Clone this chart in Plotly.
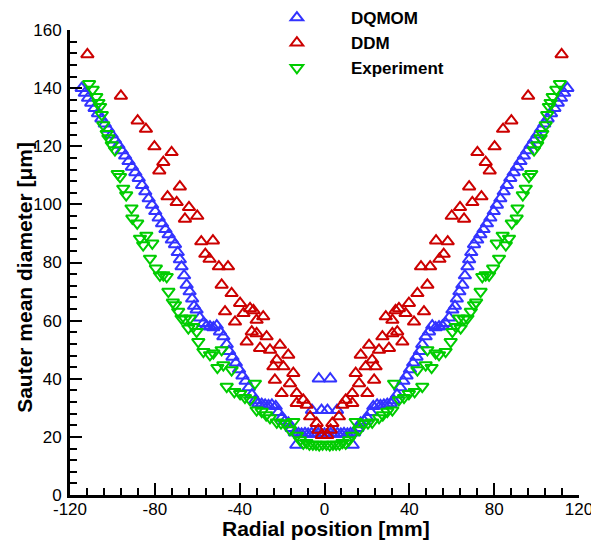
import plotly.graph_objects as go

# Sauter mean diameter profiles across the radial position
dqmom_x = [
    -114.5, -113.0, -111.5, -110.0, -108.4, -106.8, -105.2, -103.6, -102.0, -100.4,
    -98.8, -97.2, -95.6, -94.0, -92.4, -90.8, -89.2, -87.6, -86.0, -84.5,
    -82.9, -81.3, -79.8, -78.2, -76.6, -75.0, -73.5, -72.0, -70.5, -69.2,
    -68.2, -67.4, -66.2, -65.0, -63.6, -62.4, -61.5, -60.3, -58.8, -57.1,
    -55.6, -54.0, -52.4, -50.8, -49.3, -47.7, -46.1, -45.0, -43.4, -41.8,
    -40.3, -38.7, -37.2, -35.7, -34.2, -32.7, -31.2, -29.6, -28.0, -26.4,
    -24.8, -23.0, -21.8, -20.2, -18.6, -17.0, -15.5, -14.0, -13.3, -12.3,
    -10.8, -9.2, -7.7, -6.1, -4.6, -3.0, -1.5, -5.9, -1.4, -2.7,
    0.0,
    2.7, 1.4, 5.9, 1.5, 3.0, 4.6, 6.1, 7.7, 9.2, 10.8,
    12.3, 13.3, 14.0, 15.5, 17.0, 18.6, 20.2, 21.8, 23.0, 24.8,
    26.4, 28.0, 29.6, 31.2, 32.7, 34.2, 35.7, 37.2, 38.7, 40.3,
    41.8, 43.4, 45.0, 46.1, 47.7, 49.3, 50.8, 52.4, 54.0, 55.6,
    57.1, 58.8, 60.3, 61.5, 62.4, 63.6, 65.0, 66.2, 67.4, 68.2,
    69.2, 70.5, 72.0, 73.5, 75.0, 76.6, 78.2, 79.8, 81.3, 82.9,
    84.5, 86.0, 87.6, 89.2, 90.8, 92.4, 94.0, 95.6, 97.2, 98.8,
    100.4, 102.0, 103.6, 105.2, 106.8, 108.4, 110.0, 111.5, 113.0, 114.5,
]
dqmom_y = [
    140.0, 138.3, 136.6, 134.9, 133.1, 131.3, 129.5, 127.7, 125.9, 124.0,
    122.2, 120.4, 118.5, 116.7, 114.8, 112.9, 111.0, 109.0, 106.6, 104.4,
    102.0, 99.8, 97.6, 95.4, 93.4, 91.4, 89.6, 87.8, 86.2, 83.5,
    81.0, 78.6, 75.5, 72.3, 70.0, 67.5, 65.0, 63.7, 61.0, 59.1,
    58.2, 57.9, 57.6, 58.3, 56.2, 54.5, 51.8, 49.5, 47.5, 45.5,
    43.2, 41.0, 39.2, 37.0, 34.5, 32.5, 31.5, 31.3, 31.0, 30.8,
    31.0, 30.5, 28.5, 26.5, 25.5, 24.8, 23.0, 21.5, 17.2, 21.2,
    21.0, 21.2, 21.0, 21.2, 21.0, 21.2, 21.0, 29.2, 29.2, 40.0,
    21.0,
    40.0, 29.2, 29.2, 21.0, 21.2, 21.0, 21.2, 21.0, 21.2, 21.0,
    21.2, 17.2, 21.5, 23.0, 24.8, 25.5, 26.5, 28.5, 30.5, 31.0,
    30.8, 31.0, 31.3, 31.5, 32.5, 34.5, 37.0, 39.2, 41.0, 43.2,
    45.5, 47.5, 49.5, 51.8, 54.5, 56.2, 58.3, 57.6, 57.9, 58.2,
    59.1, 61.0, 63.7, 65.0, 67.5, 70.0, 72.3, 75.5, 78.6, 81.0,
    83.5, 86.2, 87.8, 89.6, 91.4, 93.4, 95.4, 97.6, 99.8, 102.0,
    104.4, 106.6, 109.0, 111.0, 112.9, 114.8, 116.7, 118.5, 120.4, 122.2,
    124.0, 125.9, 127.7, 129.5, 131.3, 133.1, 134.9, 136.6, 138.3, 140.0,
]

ddm_x = [
    -111.8, -96.0, -88.1, -84.2, -80.2, -72.1, -76.0, -77.9, -68.2, -74.0,
    -69.7, -63.9, -60.0, -65.8, -58.1, -52.6, -56.2, -54.2, -49.8, -45.5,
    -48.5, -43.8, -39.8, -35.1, -33.5, -46.9, -38.2, -42.2, -32.0, -28.9,
    -34.3, -32.0, -27.3, -36.7, -30.4, -25.7, -21.0, -17.1, -22.5, -24.1,
    -19.4, -14.7, -23.4, -16.3, -20.2, -13.1, -10.0, -8.4, -13.1, -6.8,
    -3.7, -2.9, -1.3,
    1.3, 2.9, 3.7,
    6.8, 13.1, 8.4, 10.0, 13.1, 20.2, 16.3, 23.4, 14.7, 19.4,
    24.1, 22.5, 17.1, 21.0, 25.7, 30.4, 36.7, 27.3, 32.0, 34.3,
    28.9, 32.0, 42.2, 38.2, 46.9, 33.5, 35.1, 39.8, 43.8, 48.5,
    45.5, 49.8, 54.2, 56.2, 52.6, 58.1, 65.8, 60.0, 63.9, 69.7,
    74.0, 68.2, 77.9, 76.0, 72.1, 80.2, 84.2, 88.1, 96.0, 111.8,
]
ddm_y = [
    151.6, 137.3, 128.8, 125.9, 119.9, 117.9, 114.5, 111.6, 106.1, 102.7,
    100.7, 99.0, 96.0, 95.0, 87.2, 87.5, 82.9, 81.2, 78.6, 78.6,
    72.3, 69.4, 66.0, 64.2, 63.5, 63.1, 62.5, 59.6, 60.2, 61.4,
    56.2, 55.6, 54.5, 52.7, 50.5, 49.9, 51.6, 48.2, 46.5, 44.2,
    44.2, 41.9, 39.6, 38.4, 35.0, 35.0, 32.7, 31.0, 31.6, 27.0,
    24.7, 22.4, 20.6,
    20.6, 22.4, 24.7,
    27.0, 31.6, 31.0, 32.7, 35.0, 35.0, 38.4, 39.6, 41.9, 44.2,
    44.2, 46.5, 48.2, 51.6, 49.9, 50.5, 52.7, 54.5, 55.6, 56.2,
    61.4, 60.2, 59.6, 62.5, 63.1, 63.5, 64.2, 66.0, 69.4, 72.3,
    78.6, 78.6, 81.2, 82.9, 87.5, 87.2, 95.0, 96.0, 99.0, 100.7,
    102.7, 106.1, 111.6, 114.5, 117.9, 119.9, 125.9, 128.8, 137.3, 151.6,
]

exp_x = [
    -111.0, -109.3, -107.6, -106.6, -105.8, -105.0, -104.3, -102.7, -101.9, -100.3,
    -98.8, -97.5, -96.4, -94.9, -93.5, -91.0, -90.6, -88.3, -87.0, -85.5,
    -84.0, -81.2, -82.3, -79.5, -77.6, -76.0, -74.4, -73.6, -71.5, -70.5,
    -69.0, -67.4, -65.8, -63.4, -64.2, -61.9, -60.3, -59.5, -57.1, -54.0,
    -52.4, -48.5, -50.5, -47.7, -46.1, -43.8, -42.5, -39.8, -37.5, -35.1,
    -32.8, -32.0, -29.6, -27.5, -25.7, -22.5, -20.5, -18.6, -16.3, -14.7,
    -13.0, -11.6, -10.0, -8.5, -7.1, -5.5, -4.0, -2.5, -0.9,
    0.9, 2.5, 4.0, 5.5, 7.1, 8.5, 10.0, 11.6, 13.0,
    14.7, 16.3, 18.6, 20.5, 22.5, 25.7, 27.5, 29.6, 32.0, 32.8,
    35.1, 37.5, 39.8, 42.5, 43.8, 46.1, 47.7, 50.5, 48.5, 52.4,
    54.0, 57.1, 59.5, 60.3, 61.9, 64.2, 63.4, 65.8, 67.4, 69.0,
    70.5, 71.5, 73.6, 74.4, 76.0, 77.6, 79.5, 82.3, 81.2, 84.0,
    85.5, 87.0, 88.3, 90.6, 91.0, 93.5, 94.9, 96.4, 97.5, 98.8,
    100.3, 101.9, 102.7, 104.3, 105.0, 105.8, 106.6, 107.6, 109.3, 111.0,
]
exp_y = [
    141.5, 139.5, 137.0, 135.0, 133.6, 130.8, 127.3, 124.3, 122.8, 120.4,
    118.7, 110.5, 109.5, 105.5, 103.2, 98.7, 95.2, 93.5, 88.3, 86.0,
    89.3, 86.6, 81.4, 78.0, 75.6, 75.7, 75.1, 70.0, 66.3, 65.4,
    63.1, 60.8, 60.5, 60.8, 57.4, 57.9, 56.2, 52.7, 49.3, 48.2,
    48.8, 49.9, 43.8, 44.7, 37.3, 43.0, 35.5, 34.8, 33.5, 32.7,
    38.4, 29.2, 28.7, 27.5, 26.5, 25.0, 24.7, 24.7, 22.4, 25.2,
    20.5, 18.9, 17.8, 18.0, 17.4, 17.4, 17.4, 17.2, 17.4,
    17.4, 17.2, 17.4, 17.4, 17.4, 18.0, 17.8, 18.9, 20.5,
    25.2, 22.4, 24.7, 24.7, 25.0, 26.5, 27.5, 28.7, 29.2, 38.4,
    32.7, 33.5, 34.8, 35.5, 43.0, 37.3, 44.7, 43.8, 49.9, 48.8,
    48.2, 49.3, 52.7, 56.2, 57.9, 57.4, 60.8, 60.5, 60.8, 63.1,
    65.4, 66.3, 70.0, 75.1, 75.7, 75.6, 78.0, 81.4, 86.6, 89.3,
    86.0, 88.3, 93.5, 95.2, 98.7, 103.2, 105.5, 109.5, 110.5, 118.7,
    120.4, 122.8, 124.3, 127.3, 130.8, 133.6, 135.0, 137.0, 139.5, 141.5,
]

x_tickvals = [-120, -80, -40, 0, 40, 80, 120]
x_ticktext = ["-120", "-80", "-40", "0", "40", "80", "120"]
y_tickvals = [0, 20, 40, 60, 80, 100, 120, 140, 160]
x_minor = list(range(-120, 121, 8))
y_minor = list(range(0, 161, 4))

FONT = "Liberation Sans, Arial, Helvetica, sans-serif"
BLUE = "#3333ff"
RED = "#cc0000"
GREEN = "#00cc00"

fig = go.Figure()


def add_series(x, y, name, color, symbol):
    fig.add_trace(go.Scatter(
        x=x, y=y, mode="markers", name=name,
        marker=dict(symbol=symbol, size=11, color=color, line=dict(width=2)),
    ))


add_series(dqmom_x, dqmom_y, "DQMOM", BLUE, "triangle-up-open")
add_series(ddm_x, ddm_y, "DDM", RED, "triangle-up-open")
add_series(exp_x, exp_y, "Experiment", GREEN, "triangle-down-open")

axis_common = dict(
    showline=True, linecolor="black", linewidth=3,
    ticks="inside", ticklen=12, tickwidth=2, tickcolor="black",
    showgrid=False, zeroline=False, mirror=False,
    tickfont=dict(family=FONT, size=17, color="black"),
    ticklabeloverflow="allow", automargin=False,
)

fig.update_xaxes(
    range=[-120, 120], tickvals=x_tickvals, ticktext=x_ticktext,
    minor=dict(tickvals=x_minor, ticks="inside",
               ticklen=7, tickwidth=2, tickcolor="black"),
    ticklabelstandoff=-3,
    **axis_common,
)
fig.update_yaxes(
    range=[0, 160], tickvals=y_tickvals,
    minor=dict(tickvals=y_minor, ticks="inside",
               ticklen=7, tickwidth=2, tickcolor="black"),
    ticklabelstandoff=2,
    **axis_common,
)

title_font = dict(family=FONT, size=21, color="black", weight="bold")
fig.add_annotation(
    text="Radial position [mm]", xref="paper", yref="paper",
    x=0.503, y=-0.071, xanchor="center", yanchor="middle",
    showarrow=False, font=title_font,
)
fig.add_annotation(
    text="Sauter mean diameter [μm]", xref="paper", yref="paper",
    x=-0.0884, y=0.467, xanchor="center", yanchor="middle",
    textangle=-90, showarrow=False, font=title_font,
)

fig.update_layout(
    width=591, height=541,
    margin=dict(l=70, r=12, t=30, b=46, autoexpand=False),
    paper_bgcolor="white", plot_bgcolor="white",
    showlegend=True,
    legend=dict(
        xref="container", yref="container",
        x=0.411, y=1.0, xanchor="left", yanchor="top",
        bgcolor="rgba(0,0,0,0)", borderwidth=0,
        font=dict(family=FONT, size=17, color="black", weight="bold"),
        itemwidth=98, tracegroupgap=0,
    ),
)

fig.write_html("out.html")
